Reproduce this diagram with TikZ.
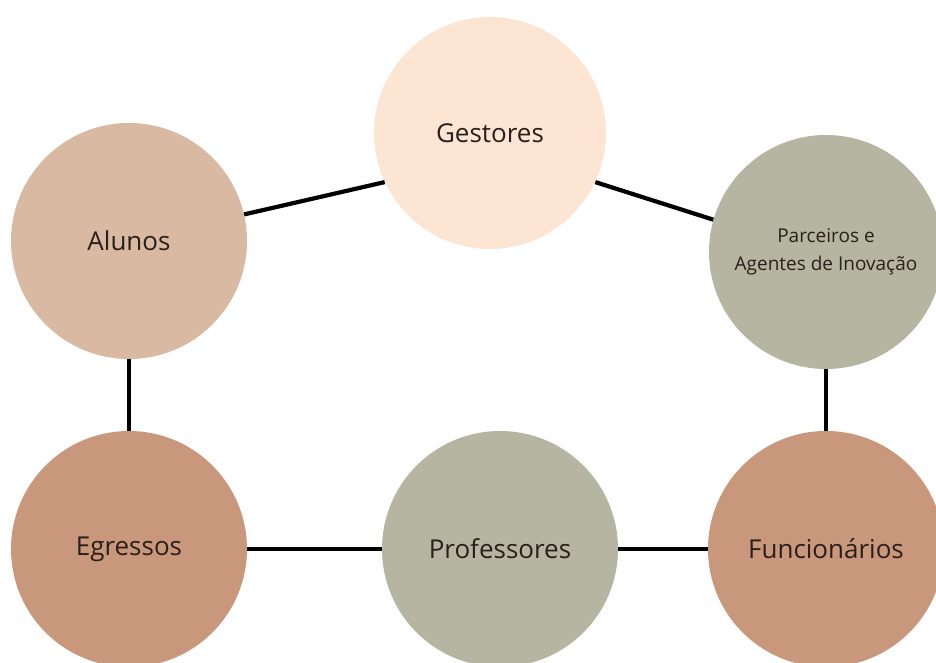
\documentclass[tikz,border=0pt]{standalone}
\usepackage{fontspec}
\setmainfont{Open Sans}
\definecolor{peach}{HTML}{FDE5D4}
\definecolor{sand}{HTML}{D9B9A2}
\definecolor{sage}{HTML}{B6B5A1}
\definecolor{clay}{HTML}{C9977B}
\definecolor{ink}{HTML}{2A201B}
\begin{document}
\begin{tikzpicture}[x=1pt,y=-1pt,
  actor/.style={circle,inner sep=0pt,minimum size=236pt,text=ink,align=center,
    font=\fontsize{26}{30}\selectfont},
  small/.style={font=\fontsize{19}{28}\selectfont},
  link/.style={line width=4.2pt,black}]
\useasboundingbox (0,0) rectangle (936,663);

\node[actor,fill=peach,minimum size=232pt] (ges) at (490,133) {Gestores};
\node[actor,fill=sand]  (alu) at (129,241) {Alunos};
\node[actor,fill=sage,minimum size=234pt,small] (par) at (826,252) {Parceiros e\\Agentes de Inovação};
\node[actor,fill=clay]  (egr) at (129,549) {Egressos};
\node[actor,fill=sage]  (pro) at (500,549) {Professores};
\node[actor,fill=clay]  (fun) at (826,549) {Funcionários};

\draw[link] (alu.13) -- (ges.205);
\draw[link] (ges.-25) -- (par.164);
\draw[link] (alu.south) -- (egr.north);
\draw[link] (par.south) -- (fun.north);
\draw[link] (egr.east) -- (pro.west);
\draw[link] (pro.east) -- (fun.west);
\end{tikzpicture}
\end{document}
